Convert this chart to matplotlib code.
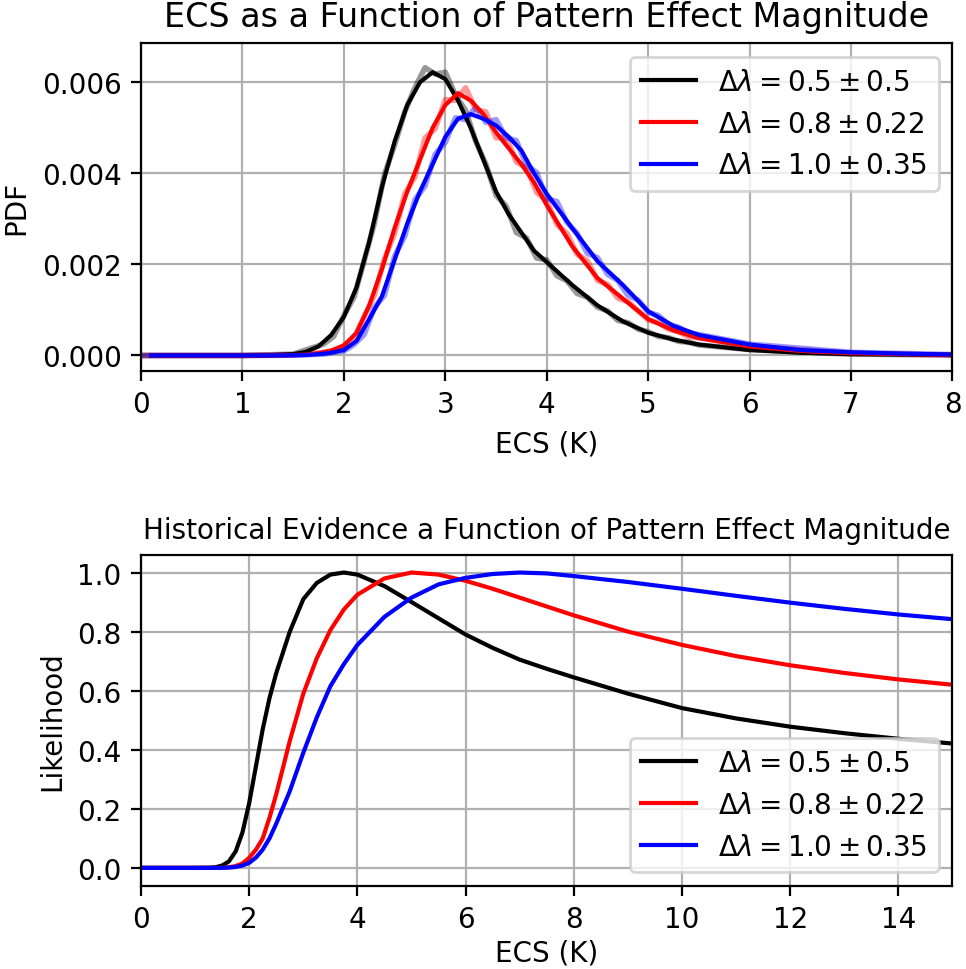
import matplotlib
matplotlib.use("Agg")
import matplotlib.pyplot as plt
import numpy as np

# ---- data ----
labels = [r'$\Delta\lambda = 0.5 \pm 0.5$',
          r'$\Delta\lambda = 0.8 \pm 0.22$',
          r'$\Delta\lambda = 1.0 \pm 0.35$']
colors = ['k', 'r', 'b']

# top panel: smoothed PDFs
ecs_pdf = [0.1, 0.5, 1.0, 1.25, 1.5, 1.625, 1.75, 1.875, 2.0, 2.125, 2.25, 2.375,
           2.5, 2.625, 2.75, 2.875, 3.0, 3.125, 3.25, 3.375, 3.5, 3.625, 3.75,
           3.875, 4.0, 4.25, 4.5, 4.75, 5.0, 5.25, 5.5, 6.0, 6.5, 7.0, 7.5, 8.0]
pdf_05 = [0, 0, 0, 0.000005, 0.00003, 0.00008, 0.0002, 0.00045, 0.00085, 0.0015,
          0.0025, 0.0037, 0.0047, 0.0055, 0.0060, 0.00622, 0.00607, 0.0056, 0.0050,
          0.0043, 0.0036, 0.0031, 0.0027, 0.0023, 0.00205, 0.00155, 0.0011, 0.00075,
          0.0005, 0.00035, 0.00024, 0.00012, 0.00006, 0.00003, 0.00002, 0.00001]
pdf_08 = [0, 0, 0, 0, 0.00001, 0.00002, 0.00005, 0.00011, 0.00022, 0.0005,
          0.0011, 0.0019, 0.0028, 0.0036, 0.0043, 0.0050, 0.0055, 0.00576, 0.0056,
          0.0053, 0.0049, 0.00455, 0.0042, 0.0038, 0.0033, 0.0024, 0.0017, 0.00125,
          0.0008, 0.00055, 0.00038, 0.0002, 0.0001, 0.00005, 0.00003, 0.00001]
pdf_10 = [0, 0, 0, 0, 0.000005, 0.00001, 0.00003, 0.00006, 0.00012, 0.00032,
          0.0008, 0.0013, 0.0021, 0.0029, 0.0036, 0.0042, 0.0048, 0.0052, 0.0053,
          0.0052, 0.00505, 0.0048, 0.0045, 0.0040, 0.00355, 0.0028, 0.00207, 0.00155,
          0.00097, 0.00065, 0.00045, 0.00024, 0.00012, 0.00007, 0.00004, 0.00002]

# top panel: raw (noisy) sample PDFs
ecs_raw = [0.0, 1.0, 1.5, 1.8, 1.9, 2.0, 2.1, 2.2, 2.3, 2.4, 2.5, 2.6, 2.7, 2.8, 2.9,
           3.0, 3.1, 3.2, 3.3, 3.4, 3.5, 3.6, 3.7, 3.8, 3.9, 4.0, 4.1, 4.2, 4.3,
           4.4, 4.5, 4.6, 4.7, 4.8, 4.9, 5.0, 5.1, 5.2, 5.3, 5.4, 5.5, 6.0, 7.0, 8.0]
raw_05 = [0, 0, 0.00003, 0.00025, 0.00042, 0.00088, 0.00128, 0.00208, 0.0029, 0.00398,
          0.00462, 0.00535, 0.00588, 0.00632, 0.00618, 0.00622, 0.00572, 0.00538,
          0.0047, 0.0042, 0.00352, 0.00328, 0.0027, 0.00258, 0.00214, 0.0021, 0.00175,
          0.00164, 0.00136, 0.00128, 0.00106, 0.00098, 0.00077, 0.00072, 0.00058,
          0.00052, 0.00042, 0.00039, 0.00031, 0.00029, 0.00023, 0.00013, 0.00003, 0.00001]
raw_08 = [0, 0, 0.00001, 0.00007, 0.0001, 0.00022, 0.00038, 0.00085, 0.00132, 0.00212,
          0.00268, 0.00355, 0.00392, 0.00478, 0.00498, 0.00562, 0.0056, 0.00588,
          0.0054, 0.00535, 0.00478, 0.0048, 0.00425, 0.00412, 0.00358, 0.0034, 0.00288,
          0.00268, 0.00222, 0.00208, 0.00165, 0.00156, 0.00126, 0.00118, 0.00098,
          0.00078, 0.00072, 0.00058, 0.00052, 0.00041, 0.00039, 0.00021, 0.00005, 0.00001]
raw_10 = [0, 0, 0.000005, 0.00003, 0.00007, 0.0001, 0.00024, 0.00046, 0.00105, 0.00132,
          0.00218, 0.00262, 0.00342, 0.00372, 0.00442, 0.00468, 0.00522, 0.00518,
          0.00545, 0.00512, 0.00518, 0.00478, 0.00472, 0.00418, 0.00402, 0.00345,
          0.00338, 0.00292, 0.00268, 0.00224, 0.00215, 0.00178, 0.00165, 0.00132,
          0.00122, 0.00095, 0.00088, 0.00068, 0.00062, 0.00049, 0.00046, 0.00025,
          0.00007, 0.00002]

# bottom panel: likelihoods
ecs_lik = [0, 1.0, 1.25, 1.375, 1.5, 1.625, 1.75, 1.875, 2.0, 2.125, 2.25, 2.375,
           2.5, 2.75, 3.0, 3.25, 3.5, 3.75, 4.0, 4.5, 5.0, 5.5, 6.0, 6.5, 7.0, 7.5,
           8.0, 9, 10, 11, 12, 13, 14, 15]
lik_05 = [0, 0, 0.0005, 0.002, 0.008, 0.022, 0.056, 0.12, 0.22, 0.345, 0.47, 0.575,
          0.66, 0.80, 0.91, 0.965, 0.993, 1.0, 0.993, 0.954, 0.90, 0.845, 0.79, 0.745,
          0.705, 0.674, 0.645, 0.59, 0.541, 0.506, 0.478, 0.456, 0.437, 0.421]
lik_08 = [0, 0, 0, 0, 0.0005, 0.002, 0.006, 0.015, 0.034, 0.062, 0.10, 0.17,
          0.25, 0.43, 0.59, 0.71, 0.805, 0.875, 0.925, 0.98, 1.0, 0.993, 0.972, 0.945,
          0.915, 0.885, 0.855, 0.80, 0.755, 0.717, 0.686, 0.66, 0.638, 0.62]
lik_10 = [0, 0, 0, 0, 0.0002, 0.001, 0.003, 0.008, 0.017, 0.035, 0.062, 0.10,
          0.15, 0.26, 0.39, 0.51, 0.615, 0.69, 0.755, 0.85, 0.915, 0.96, 0.982, 0.995,
          1.0, 0.997, 0.988, 0.968, 0.945, 0.921, 0.898, 0.877, 0.858, 0.842]

fig = plt.figure(figsize=(4.83, 4.85), dpi=200)
ax1 = fig.add_axes([0.146, 0.617, 0.840, 0.338])
ax2 = fig.add_axes([0.146, 0.086, 0.840, 0.341])

for raw, c in zip([raw_05, raw_08, raw_10], colors):
    ax1.plot(ecs_raw, raw, color=c, alpha=0.4, lw=2)
for pdf, c, lab in zip([pdf_05, pdf_08, pdf_10], colors, labels):
    ax1.plot(ecs_pdf, pdf, color=c, lw=1.5, label=lab)
ax1.set_xlim(0, 8)
ax1.set_ylim(-0.00033, 0.00687)
ax1.set_yticks([0, 0.002, 0.004, 0.006])
ax1.set_xlabel('ECS (K)')
ax1.set_ylabel('PDF')
ax1.set_title('ECS as a Function of Pattern Effect Magnitude', fontsize=12)
ax1.grid(True)
ax1.legend(loc='upper right')

for lik, c, lab in zip([lik_05, lik_08, lik_10], colors, labels):
    ax2.plot(ecs_lik, lik, color=c, lw=1.5, label=lab)
ax2.set_xlim(0, 15)
ax2.set_ylim(-0.06, 1.06)
ax2.set_yticks([0, 0.2, 0.4, 0.6, 0.8, 1.0])
ax2.set_yticklabels(['0.0', '0.2', '0.4', '0.6', '0.8', '1.0'])
ax2.set_xlabel('ECS (K)', labelpad=2)
ax2.set_ylabel('Likelihood')
ax2.set_title('Historical Evidence a Function of Pattern Effect Magnitude', fontsize=10)
ax2.grid(True)
ax2.legend(loc='lower right')

fig.savefig('out.png', dpi=200)
